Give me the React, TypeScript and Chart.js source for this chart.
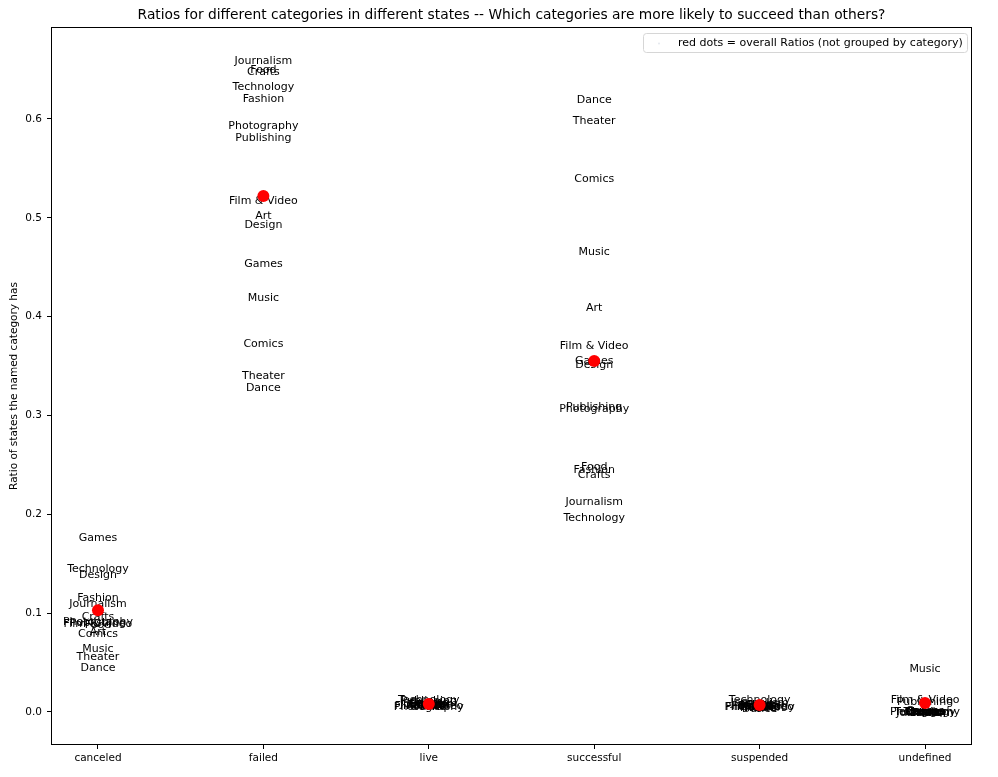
import Chart from "chart.js/auto";
import { useEffect, useRef } from "react";

const states = ["canceled", "failed", "live", "successful", "suspended", "undefined"];

const categories = [
  "Art",
  "Comics",
  "Crafts",
  "Dance",
  "Design",
  "Fashion",
  "Film & Video",
  "Food",
  "Games",
  "Journalism",
  "Music",
  "Photography",
  "Publishing",
  "Technology",
  "Theater"
];

// one ratio per category, same order as `categories`
const canceledRatios = [0.082, 0.08, 0.097, 0.046, 0.14, 0.117, 0.09, 0.089, 0.177, 0.111, 0.065, 0.092, 0.091, 0.146, 0.057];
const failedRatios = [0.503, 0.374, 0.649, 0.329, 0.494, 0.622, 0.518, 0.651, 0.455, 0.66, 0.42, 0.594, 0.582, 0.634, 0.341];
const liveRatios = [0.007, 0.008, 0.007, 0.006, 0.009, 0.008, 0.007, 0.008, 0.01, 0.009, 0.007, 0.006, 0.012, 0.013, 0.008];
const successfulRatios = [0.41, 0.541, 0.241, 0.621, 0.352, 0.246, 0.372, 0.249, 0.356, 0.214, 0.467, 0.308, 0.31, 0.198, 0.599];
const suspendedRatios = [0.005, 0.006, 0.007, 0.004, 0.008, 0.007, 0.006, 0.008, 0.009, 0.01, 0.005, 0.006, 0.007, 0.014, 0.005];
const undefinedRatios = [0.0, 0.001, 0.0, 0.001, 0.001, 0.0, 0.014, 0.0, 0.002, 0.0, 0.045, 0.001, 0.011, 0.001, 0.001];

const overallRatios = [0.103, 0.522, 0.008, 0.355, 0.007, 0.009];

const yTicks = [0, 0.1, 0.2, 0.3, 0.4, 0.5, 0.6];

const ratiosByState = [canceledRatios, failedRatios, liveRatios, successfulRatios, suspendedRatios, undefinedRatios];

const FONT = "'DejaVu Sans', sans-serif";
const TITLE = "Ratios for different categories in different states -- Which categories are more likely to succeed than others?";
const Y_LABEL = "Ratio of states the named category has";
const LEGEND_LABEL = "red dots = overall Ratios (not grouped by category)";

const decorPlugin = {
  id: "decor",
  beforeDatasetsDraw(chart: Chart) {
    const { ctx } = chart;
    const x = chart.scales.x;
    const y = chart.scales.y;
    ctx.save();
    ctx.font = `11px ${FONT}`;
    ctx.fillStyle = "#000";
    ctx.textAlign = "center";
    ctx.textBaseline = "middle";
    ratiosByState.forEach((ratios, si) => {
      ratios.forEach((value, ci) => {
        ctx.fillText(categories[ci], x.getPixelForValue(si), y.getPixelForValue(value) + 1.5);
      });
    });
    ctx.restore();
  },
  afterDraw(chart: Chart) {
    const { ctx, chartArea } = chart;
    ctx.save();
    // spines
    ctx.strokeStyle = "#000";
    ctx.lineWidth = 1;
    ctx.strokeRect(chartArea.left + 0.5, chartArea.top + 0.5, chartArea.right - chartArea.left - 1, chartArea.bottom - chartArea.top - 1);

    // title
    ctx.fillStyle = "#000";
    ctx.font = `13.8px ${FONT}`;
    ctx.textAlign = "center";
    ctx.textBaseline = "middle";
    ctx.fillText(TITLE, (chartArea.left + chartArea.right) / 2, 15);

    // y axis label
    ctx.save();
    ctx.translate(14, (chartArea.top + chartArea.bottom) / 2);
    ctx.rotate(-Math.PI / 2);
    ctx.font = `10.5px ${FONT}`;
    ctx.fillText(Y_LABEL, 0, 0);
    ctx.restore();

    // legend box
    const bx = 643;
    const by = 33;
    const bw = 324;
    const bh = 19;
    ctx.fillStyle = "rgba(255,255,255,0.8)";
    ctx.strokeStyle = "#d6d6d6";
    ctx.beginPath();
    ctx.roundRect(bx + 0.5, by + 0.5, bw, bh, 3);
    ctx.fill();
    ctx.stroke();
    ctx.fillStyle = "#e4e8ee";
    ctx.beginPath();
    ctx.arc(659, by + bh / 2 + 1, 1, 0, Math.PI * 2);
    ctx.fill();
    ctx.fillStyle = "#000";
    ctx.font = `11px ${FONT}`;
    ctx.textAlign = "left";
    ctx.fillText(LEGEND_LABEL, 678, by + bh / 2 + 1);
    ctx.restore();
  }
};

export default function App() {
  const canvasRef = useRef<HTMLCanvasElement | null>(null);

  useEffect(() => {
    if (!canvasRef.current) {
      return undefined;
    }

    const chart = new Chart(canvasRef.current, {
      type: "scatter",
      data: {
        datasets: [
          {
            label: "overall",
            data: overallRatios.map((value, i) => ({ x: i, y: value })),
            backgroundColor: "#ff0000",
            borderWidth: 0,
            pointRadius: 6,
            pointHoverRadius: 6
          }
        ]
      },
      options: {
        responsive: false,
        animation: false,
        events: [],
        layout: {
          padding: { top: 27, right: 26, left: 0, bottom: 0 }
        },
        plugins: {
          legend: { display: false },
          tooltip: { enabled: false },
          title: { display: false }
        },
        scales: {
          x: {
            type: "linear",
            min: -0.284,
            max: 5.284,
            afterBuildTicks: (scale) => {
              scale.ticks = states.map((_, i) => ({ value: i }));
            },
            afterFit: (scale) => {
              scale.height = 32;
            },
            grid: {
              drawOnChartArea: false,
              color: "#000",
              tickLength: 4
            },
            border: { display: false },
            ticks: {
              color: "#000",
              font: { family: FONT, size: 10.5 },
              padding: 3,
              maxRotation: 0,
              autoSkip: false,
              callback: (value) => states[Number(value)] ?? ""
            }
          },
          y: {
            type: "linear",
            min: -0.0334,
            max: 0.693,
            afterBuildTicks: (scale) => {
              scale.ticks = yTicks.map((value) => ({ value }));
            },
            afterFit: (scale) => {
              scale.width = 51;
            },
            grid: {
              drawOnChartArea: false,
              color: "#000",
              tickLength: 4
            },
            border: { display: false },
            ticks: {
              color: "#000",
              font: { family: FONT, size: 10.5 },
              padding: 5,
              callback: (value) => Number(value).toFixed(1)
            }
          }
        }
      },
      plugins: [decorPlugin]
    });

    return () => chart.destroy();
  }, []);

  return (
    <div style={{ position: "fixed", left: 0, top: 0, width: 998, height: 777, background: "#fff" }}>
      <canvas ref={canvasRef} width={998} height={777} />
    </div>
  );
}
